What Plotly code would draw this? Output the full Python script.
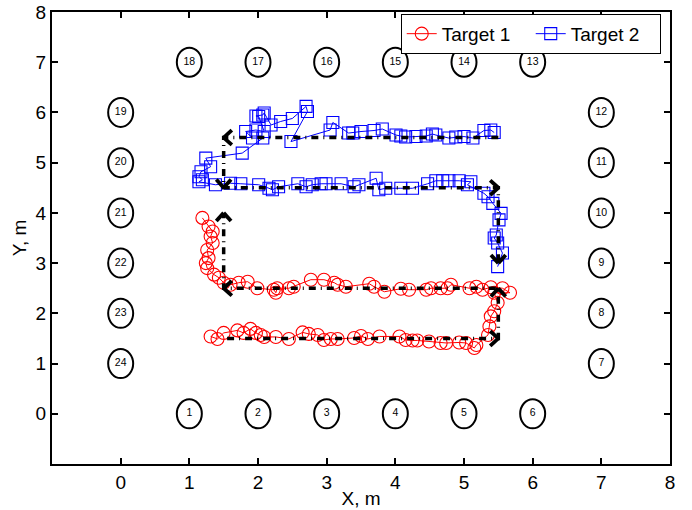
import plotly.graph_objects as go
import numpy as np

# ---------------- data ----------------
anchor_x = [1, 2, 3, 4, 5, 6, 7, 7, 7, 7, 7, 7, 6, 5, 4, 3, 2, 1, 0, 0, 0, 0, 0, 0]
anchor_y = [0, 0, 0, 0, 0, 0, 1, 2, 3, 4, 5, 6, 7, 7, 7, 7, 7, 7, 6, 5, 4, 3, 2, 1]
anchor_labels = [str(i) for i in range(1, 25)]

t1_x = [1.31, 1.41, 1.50, 1.70, 1.79, 1.89, 1.97, 2.04, 2.09, 2.26, 2.45, 2.65, 2.74, 2.87,
        2.96, 3.06, 3.16, 3.40, 3.50, 3.60, 3.77, 4.06, 4.15, 4.25, 4.32, 4.49, 4.66, 4.74,
        4.93, 5.03, 5.15, 5.18, 5.35, 5.37, 5.39, 5.44, 5.49, 5.44, 5.67, 5.56, 5.39, 5.27,
        5.18, 5.08, 4.81, 4.76, 4.66, 4.52, 4.45, 4.20, 4.08, 3.84, 3.69, 3.62, 3.28, 3.16,
        3.11, 2.96, 2.77, 2.52, 2.45, 2.28, 2.26, 2.23, 1.99, 1.85, 1.72, 1.60, 1.50, 1.43,
        1.36, 1.26, 1.24, 1.28, 1.26, 1.34, 1.31, 1.34, 1.28, 1.19]
t1_y = [1.54, 1.49, 1.61, 1.66, 1.61, 1.69, 1.61, 1.57, 1.53, 1.53, 1.49, 1.62, 1.59, 1.57,
        1.47, 1.49, 1.49, 1.51, 1.55, 1.49, 1.54, 1.54, 1.47, 1.46, 1.46, 1.44, 1.41, 1.41,
        1.42, 1.41, 1.31, 1.37, 1.57, 1.74, 1.94, 2.04, 2.21, 2.41, 2.41, 2.50, 2.52, 2.47,
        2.53, 2.50, 2.57, 2.50, 2.50, 2.50, 2.47, 2.47, 2.49, 2.43, 2.53, 2.59, 2.53, 2.57,
        2.61, 2.67, 2.67, 2.53, 2.50, 2.50, 2.41, 2.47, 2.50, 2.63, 2.61, 2.57, 2.61, 2.71,
        2.77, 2.90, 3.00, 3.10, 3.26, 3.40, 3.53, 3.63, 3.73, 3.90]

t2_x = [5.44, 5.39, 5.29, 5.13, 5.00, 4.88, 4.78, 4.59, 4.54, 4.45, 4.30, 4.15, 4.08, 4.01,
        3.81, 3.69, 3.50, 3.38, 3.32, 3.09, 3.05, 2.48, 2.72, 2.70, 2.50, 2.33, 2.19, 2.09,
        2.07, 1.97, 2.01, 2.09, 1.97, 1.82, 1.92, 2.07, 1.77, 1.24, 1.31, 1.17, 1.14, 1.19,
        1.14, 1.38, 1.60, 1.75, 2.01, 2.16, 2.21, 2.30, 2.58, 2.70, 2.79, 2.92, 2.99, 3.21,
        3.40, 3.47, 3.72, 3.76, 3.86, 4.08, 4.25, 4.47, 4.59, 4.69, 4.78, 4.93, 5.10, 5.05,
        5.29, 5.35, 5.42, 5.54, 5.51, 5.47, 5.44, 5.49, 5.56, 5.49]
t2_y = [5.60, 5.65, 5.64, 5.49, 5.52, 5.51, 5.49, 5.55, 5.57, 5.53, 5.52, 5.51, 5.53, 5.55,
        5.67, 5.64, 5.62, 5.59, 5.59, 5.80, 5.65, 5.42, 6.02, 6.12, 5.88, 5.82, 5.75, 5.99,
        5.95, 5.93, 5.92, 5.62, 5.65, 5.62, 5.49, 5.49, 5.19, 5.09, 4.92, 4.82, 4.72, 4.66,
        4.62, 4.56, 4.59, 4.58, 4.56, 4.49, 4.46, 4.52, 4.58, 4.52, 4.56, 4.58, 4.58, 4.58,
        4.52, 4.56, 4.69, 4.46, 4.49, 4.49, 4.49, 4.58, 4.64, 4.64, 4.64, 4.64, 4.62, 4.56,
        4.39, 4.32, 4.19, 3.99, 3.86, 3.56, 3.50, 3.40, 3.20, 2.93]

# reference (planned) paths
ref1_x = [1.55, 5.5, 5.5, 1.5, 1.5]
ref1_y = [1.5, 1.5, 2.5, 2.5, 4.0]
ref2_x = [5.5, 1.5, 1.5, 5.5, 5.5]
ref2_y = [5.5, 5.5, 4.5, 4.5, 3.0]

# ---------------- layout geometry ----------------
W, H = 692, 510
ML, MR, MT, MB = 52, 22, 12, 46
XR = [-1, 8]
YR = [-1, 8]
sx = (W - ML - MR) / (XR[1] - XR[0])   # px per unit
sy = (H - MT - MB) / (YR[1] - YR[0])

FONT = "Liberation Sans Narrow, Liberation Sans, Arial, sans-serif"

fig = go.Figure()

fig.add_trace(go.Scatter(
    x=t1_x, y=t1_y, mode="lines+markers", name="Target 1",
    line=dict(color="#ff0000", width=1),
    marker=dict(symbol="circle-open", size=13, color="#ff0000", line=dict(width=1.1)),
))
fig.add_trace(go.Scatter(
    x=t2_x, y=t2_y, mode="lines+markers", name="Target 2",
    line=dict(color="#0000ff", width=1),
    marker=dict(symbol="square-open", size=12, color="#0000ff", line=dict(width=1.1)),
))


def chevrons(px, py):
    """arrow heads at every corner / end of a path, built from the path arrays"""
    cx, cy = [], []
    L = 11.0
    ang = np.deg2rad(42)
    for i in range(1, len(px)):
        dx = (px[i] - px[i - 1]) * sx
        dy = (py[i] - py[i - 1]) * sy
        n = np.hypot(dx, dy)
        ux, uy = dx / n, dy / n
        for s in (1, -1):
            c, sn = np.cos(s * ang), np.sin(s * ang)
            rx = -(ux * c - uy * sn) * L
            ry = -(ux * sn + uy * c) * L
            cx += [px[i] + rx / sx, px[i], None]
            cy += [py[i] + ry / sy, py[i], None]
    return cx, cy


for rx, ry in ((ref1_x, ref1_y), (ref2_x, ref2_y)):
    fig.add_trace(go.Scatter(
        x=rx, y=ry, mode="lines", showlegend=False, hoverinfo="skip",
        line=dict(color="black", width=3.5, dash="7px,5px,1px,5px"),
    ))
    cx, cy = chevrons(rx, ry)
    fig.add_trace(go.Scatter(
        x=cx, y=cy, mode="lines", showlegend=False, hoverinfo="skip",
        line=dict(color="black", width=3.8),
    ))

# anchor nodes (ellipses in data coordinates) with their numbers
ax_r = 12.5 / sx
ay_r = 14.5 / sy
for xa, ya in zip(anchor_x, anchor_y):
    fig.add_shape(type="circle", xref="x", yref="y",
                  x0=xa - ax_r, x1=xa + ax_r, y0=ya - ay_r, y1=ya + ay_r,
                  line=dict(color="black", width=2))
fig.add_trace(go.Scatter(
    x=anchor_x, y=anchor_y, mode="text", text=anchor_labels, showlegend=False,
    textfont=dict(family=FONT, size=10.5, color="black"), hoverinfo="skip",
))

axis_common = dict(
    showgrid=False, zeroline=False, showline=True, linecolor="black", linewidth=2,
    mirror="ticks", ticks="inside", ticklen=6, tickwidth=1.5, tickcolor="black",
    tickfont=dict(family=FONT, size=19, color="black"), automargin=False,
)
fig.update_layout(
    width=W, height=H,
    margin=dict(l=ML, r=MR, t=MT, b=MB, autoexpand=False),
    paper_bgcolor="white", plot_bgcolor="white",
    font=dict(family=FONT, color="black"),
    xaxis=dict(range=XR, tickvals=list(range(0, 9)), ticktext=[str(v) for v in range(0, 9)],
               title=dict(text="X, m", font=dict(size=19, family=FONT), standoff=0),
               **axis_common),
    yaxis=dict(range=YR, tickvals=list(range(0, 9)), ticktext=[str(v) for v in range(0, 9)],
               title=dict(text="Y, m", font=dict(size=19, family=FONT), standoff=4),
               **axis_common),
    legend=dict(orientation="h", x=0.985, xanchor="right", y=0.996, yanchor="top",
                bgcolor="white", bordercolor="black", borderwidth=1,
                font=dict(family=FONT, size=19, color="black"),
                itemwidth=30, tracegroupgap=0, entrywidth=84, entrywidthmode="pixels"),
    showlegend=True,
)

fig.write_html("out.html")
